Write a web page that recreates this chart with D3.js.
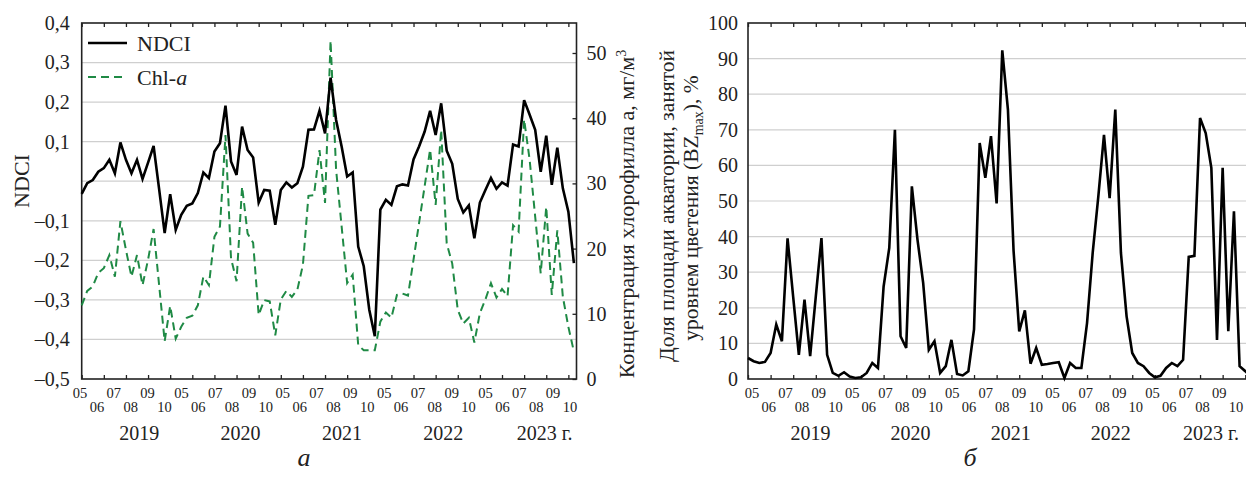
<!DOCTYPE html>
<html>
<head>
<meta charset="utf-8">
<script src="https://cdn.jsdelivr.net/npm/d3@7"></script>
<style>
  body { margin: 0; background: #fff; }
  svg text { font-family: "Liberation Serif", "DejaVu Serif", serif; fill: #222; }
</style>
</head>
<body>
<div id="chart"></div>
<script>
// ten-day steps, May..October of each year
const years = ['2019', '2020', '2021', '2022', '2023'];
const months = ['05', '06', '07', '08', '09', '10'];

const ndci = [
  -0.032, -0.005, 0.003, 0.024, 0.033, 0.054, 0.020, 0.098, 0.054, 0.020,
  0.054, 0.006, 0.047, 0.089, -0.020, -0.131, -0.033, -0.123, -0.085, -0.062,
  -0.056, -0.030, 0.022, 0.008, 0.075, 0.096, 0.191, 0.050, 0.016, 0.138,
  0.079, 0.060, -0.054, -0.022, -0.024, -0.110, -0.022, -0.003, -0.016, -0.005,
  0.037, 0.130, 0.131, 0.178, 0.121, 0.262, 0.155, 0.088, 0.012, 0.022,
  -0.165, -0.215, -0.325, -0.392, -0.072, -0.047, -0.060, -0.013, -0.008, -0.011,
  0.055, 0.088, 0.125, 0.178, 0.117, 0.197, 0.077, 0.044, -0.045, -0.079,
  -0.061, -0.144, -0.054, -0.022, 0.008, -0.019, -0.003, -0.011, 0.093, 0.088,
  0.205, 0.168, 0.130, 0.024, 0.115, -0.009, 0.085, -0.018, -0.077, -0.207
];

const chl = [
  11.3, 13.5, 14.2, 16.3, 17.0, 19.0, 15.7, 24.2, 19.8, 15.7,
  19.0, 14.4, 18.3, 23.0, 14.4, 5.8, 11.2, 6.2, 8.0, 9.4,
  9.7, 11.3, 15.7, 14.4, 21.8, 23.4, 37.4, 18.5, 15.0, 29.5,
  22.3, 20.9, 9.8, 12.1, 11.9, 6.7, 12.2, 13.5, 12.6, 13.7,
  17.5, 28.1, 28.2, 35.1, 27.0, 51.9, 32.1, 23.4, 14.7, 16.0,
  5.2, 4.4, 4.4, 4.4, 8.8, 10.2, 9.4, 12.9, 13.1, 12.8,
  18.3, 23.9, 29.5, 35.2, 26.7, 38.2, 20.8, 17.7, 10.6, 8.5,
  9.4, 5.6, 10.1, 12.2, 14.7, 12.5, 13.8, 12.7, 23.6, 22.6,
  39.8, 33.6, 24.9, 16.2, 26.4, 12.9, 22.8, 12.6, 8.0, 4.2
];

const bz = [
  5.9, 5.0, 4.5, 4.8, 7.3, 15.3, 10.6, 39.5, 23.0, 6.8,
  22.3, 6.4, 23.2, 39.6, 6.8, 1.7, 0.9, 1.9, 0.7, 0.3,
  0.5, 1.7, 4.5, 3.1, 26.0, 36.8, 70.0, 12.0, 8.7, 54.1,
  39.1, 27.0, 8.2, 10.6, 1.7, 3.6, 11.0, 1.4, 1.0, 2.2,
  13.9, 66.3, 56.5, 68.2, 49.3, 92.3, 75.7, 36.0, 13.4, 19.3,
  4.3, 8.7, 4.0, 4.2, 4.5, 4.7, 0.3, 4.5, 3.1, 3.1,
  15.7, 35.4, 51.3, 68.6, 50.8, 75.7, 35.4, 17.6, 7.3, 4.5,
  3.6, 1.7, 0.5, 0.9, 3.1, 4.5, 3.6, 5.4, 34.3, 34.6,
  73.3, 69.1, 59.3, 11.0, 59.3, 13.4, 47.1, 3.6, 2.2, 0.7
];

const ndciTicks = [-0.5, -0.4, -0.3, -0.2, -0.1, 0, 0.1, 0.2, 0.3, 0.4];
const chlTicks = [0, 10, 20, 30, 40, 50];
const bzTicks = [0, 10, 20, 30, 40, 50, 60, 70, 80, 90, 100];

const width = 1246, height = 482;
const plotTop = 23, plotBottom = 379;
const green = '#1f8a45';
const grid = '#cfcfcf';

const ruFormat = d3.formatLocale({ decimal: ',', thousands: ' ', grouping: [3], currency: ['', ''], minus: '\u2013' }).format('.1f');

const svg = d3.select('#chart').append('svg')
  .attr('width', width)
  .attr('height', height);

const monthKeys = [];
years.forEach(y => months.forEach(m => monthKeys.push(y + '-' + m)));
const idx = d3.range(ndci.length);

function drawPanel(cfg) {
  const x = d3.scaleLinear().domain([0, ndci.length - 1]).range(cfg.xRange);
  const y = cfg.y;
  const left = cfg.xRange[0], right = cfg.frameRight;

  // grid
  svg.append('g')
    .selectAll('line')
    .data(cfg.gridTicks)
    .enter().append('line')
    .attr('x1', left).attr('x2', right)
    .attr('y1', d => y(d)).attr('y2', d => y(d))
    .attr('stroke', grid).attr('stroke-width', 1.2);

  // inward ticks on top and bottom, every 4 steps
  const stepTicks = d3.range(0, ndci.length, 4);
  svg.append('g')
    .attr('transform', `translate(0,${plotTop})`)
    .call(d3.axisTop(x).tickValues(stepTicks).tickSizeInner(-4).tickSizeOuter(0).tickFormat(''))
    .call(g => g.select('.domain').remove())
    .selectAll('line').attr('stroke', '#222').attr('stroke-width', 1.3);
  svg.append('g')
    .attr('transform', `translate(0,${plotBottom})`)
    .call(d3.axisBottom(x).tickValues(stepTicks).tickSizeInner(-4).tickSizeOuter(0).tickFormat(''))
    .call(g => g.select('.domain').remove())
    .selectAll('line').attr('stroke', '#222').attr('stroke-width', 1.3);

  // left axis labels
  const la = svg.append('g')
    .attr('transform', `translate(${left},0)`)
    .call(d3.axisLeft(y).tickValues(cfg.leftTicks).tickSize(0).tickPadding(cfg.leftPad).tickFormat(cfg.leftFormat));
  la.select('.domain').remove();
  la.selectAll('text').style('font-size', '20px').attr('fill', '#222');

  // frame
  svg.append('rect')
    .attr('x', left).attr('y', plotTop)
    .attr('width', right - left).attr('height', plotBottom - plotTop)
    .attr('fill', 'none').attr('stroke', '#222').attr('stroke-width', 1.6);

  // month labels
  const mx = d3.scalePoint().domain(monthKeys).range(cfg.monthRange);
  svg.append('g')
    .selectAll('text')
    .data(monthKeys)
    .enter().append('text')
    .attr('x', d => mx(d))
    .attr('y', (d, i) => i % 2 === 0 ? 398 : 412)
    .attr('text-anchor', 'middle')
    .style('font-size', '14.5px')
    .text(d => d.split('-')[1]);

  // years
  const step = mx.step();
  svg.append('g')
    .selectAll('text')
    .data(years)
    .enter().append('text')
    .attr('x', d => mx(d + '-05') + step * 3.5)
    .attr('y', 440)
    .attr('text-anchor', 'middle')
    .style('font-size', '20px')
    .text((d, i) => i === years.length - 1 ? d + ' г.' : d);

  // caption
  svg.append('text')
    .attr('x', cfg.caption[1]).attr('y', 466)
    .attr('text-anchor', 'middle')
    .style('font-size', '26px').style('font-style', 'italic')
    .text(cfg.caption[0]);

  return x;
}

// ---------- panel a ----------
const yNdci = d3.scaleLinear().domain([-0.5, 0.4]).range([plotBottom, plotTop]);
const yChl = d3.scaleLinear().domain([0, 54.6]).range([plotBottom, plotTop]);

const xA = drawPanel({
  xRange: [81.7, 573.9], frameRight: 576.5, y: yNdci,
  gridTicks: ndciTicks.slice(1, -1), leftTicks: ndciTicks, leftPad: 12,
  leftFormat: d => d === 0 ? '' : ruFormat(d),
  monthRange: [80, 570], caption: ['а', 304]
});

// right axis (chlorophyll)
const ra = svg.append('g')
  .attr('transform', `translate(576.5,0)`)
  .call(d3.axisRight(yChl).tickValues(chlTicks).tickSizeInner(-4).tickSizeOuter(0).tickPadding(10));
ra.select('.domain').remove();
ra.selectAll('line').attr('stroke', '#222').attr('stroke-width', 1.3);
ra.selectAll('text').style('font-size', '20px').attr('fill', '#222');

svg.append('path')
  .datum(idx)
  .attr('fill', 'none')
  .attr('stroke', green)
  .attr('stroke-width', 2)
  .attr('stroke-dasharray', '8,5')
  .attr('d', d3.line().x(i => xA(i)).y(i => yChl(chl[i])));

svg.append('path')
  .datum(idx)
  .attr('fill', 'none')
  .attr('stroke', '#000')
  .attr('stroke-width', 2.6)
  .attr('d', d3.line().x(i => xA(i)).y(i => yNdci(ndci[i])));

// legend
const leg = svg.append('g');
leg.append('line').attr('x1', 88).attr('x2', 127).attr('y1', 43).attr('y2', 43)
  .attr('stroke', '#000').attr('stroke-width', 2.6);
leg.append('text').attr('x', 137).attr('y', 51).style('font-size', '22px').text('NDCI');
leg.append('line').attr('x1', 88).attr('x2', 127).attr('y1', 77).attr('y2', 77)
  .attr('stroke', green).attr('stroke-width', 2).attr('stroke-dasharray', '8,5');
const chlText = leg.append('text').attr('x', 137).attr('y', 85).style('font-size', '22px');
chlText.append('tspan').text('Chl-');
chlText.append('tspan').style('font-style', 'italic').text('a');

// axis titles
svg.append('text')
  .attr('transform', 'translate(29,181) rotate(-90)')
  .attr('text-anchor', 'middle')
  .style('font-size', '22px')
  .text('NDCI');

const t2 = svg.append('text')
  .attr('transform', 'translate(634,214) rotate(-90)')
  .attr('text-anchor', 'middle')
  .style('font-size', '22px');
t2.append('tspan').text('Концентрация хлорофилла а, мг/м');
t2.append('tspan').attr('dy', -8).style('font-size', '14px').text('3');

// ---------- panel б ----------
const yBz = d3.scaleLinear().domain([0, 100]).range([plotBottom, plotTop]);

const xB = drawPanel({
  xRange: [748, 1250.9], frameRight: 1253, y: yBz,
  gridTicks: bzTicks.slice(1, -1), leftTicks: bzTicks, leftPad: 10,
  leftFormat: d => d,
  monthRange: [752, 1236], caption: ['б', 970]
});

svg.append('path')
  .datum(idx)
  .attr('fill', 'none')
  .attr('stroke', '#000')
  .attr('stroke-width', 2.6)
  .attr('d', d3.line().x(i => xB(i)).y(i => yBz(bz[i])));

svg.append('text')
  .attr('transform', 'translate(674,206) rotate(-90)')
  .attr('text-anchor', 'middle')
  .style('font-size', '21.5px')
  .text('Доля площади акватории, занятой');

const t4 = svg.append('text')
  .attr('transform', 'translate(698,208) rotate(-90)')
  .attr('text-anchor', 'middle')
  .style('font-size', '21.5px');
t4.append('tspan').text('уровнем цветения (BZ');
t4.append('tspan').attr('dy', 5).style('font-size', '14px').text('max');
t4.append('tspan').attr('dy', -5).text('), %');
</script>
</body>
</html>
